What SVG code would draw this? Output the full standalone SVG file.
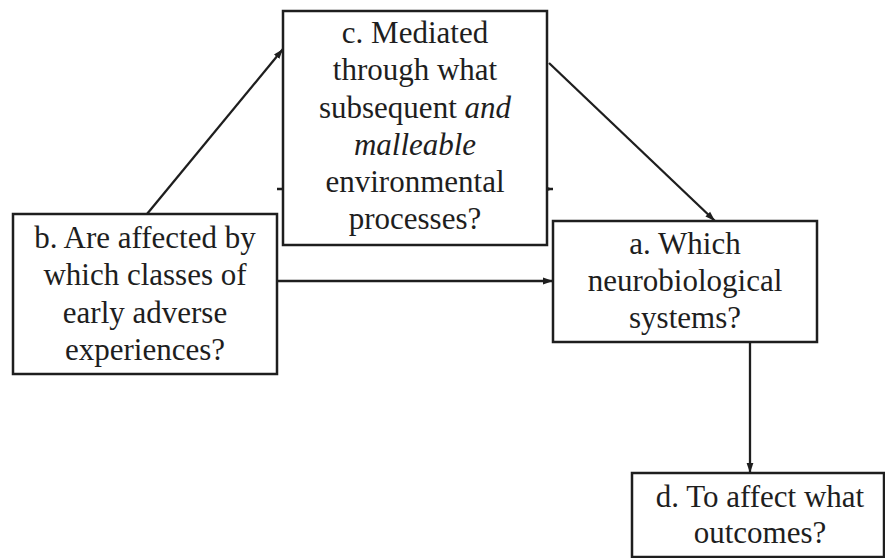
<svg xmlns="http://www.w3.org/2000/svg" width="885" height="558" viewBox="0 0 885 558">
  <defs>
    <style>
      .box { fill: #ffffff; stroke: #1e1e1e; stroke-width: 2.5; }
      .edge { fill: none; stroke: #1e1e1e; stroke-width: 2.3; }
      .lbl { font-family: "Liberation Serif", "Times New Roman", serif; font-size: 31px; fill: #1e1e1e; text-anchor: middle; }
      .it { font-style: italic; }
    </style>
    <marker id="arrow" markerUnits="userSpaceOnUse" markerWidth="12" markerHeight="10" refX="10" refY="4" orient="auto">
      <path d="M0,0.6 L10,4 L0,7.4 Z" fill="#1e1e1e"/>
    </marker>
  </defs>
  <rect width="885" height="558" fill="#ffffff"/>
  <g id="connectors">
    <line class="edge" x1="147" y1="214" x2="283" y2="49" marker-end="url(#arrow)"/>
    <line class="edge" x1="277" y1="189" x2="553" y2="189" marker-end="url(#arrow)"/>
    <line class="edge" x1="549" y1="63" x2="715" y2="221" marker-end="url(#arrow)"/>
    <line class="edge" x1="277" y1="281" x2="553" y2="281" marker-end="url(#arrow)"/>
    <line class="edge" x1="750" y1="342" x2="750" y2="473" marker-end="url(#arrow)"/>
  </g>
  <g id="node-b">
    <rect class="box" x="13" y="214" width="264" height="160"/>
    <text class="lbl" x="145" y="248">b. Are affected by</text>
    <text class="lbl" x="145" y="285">which classes of</text>
    <text class="lbl" x="145" y="323">early adverse</text>
    <text class="lbl" x="145" y="360">experiences?</text>
  </g>
  <g id="node-c">
    <rect class="box" x="283" y="11" width="264" height="234"/>
    <text class="lbl" x="415" y="43">c. Mediated</text>
    <text class="lbl" x="415" y="80">through what</text>
    <text class="lbl" x="415" y="118">subsequent <tspan class="it">and</tspan></text>
    <text class="lbl it" x="415" y="155">malleable</text>
    <text class="lbl" x="415" y="192">environmental</text>
    <text class="lbl" x="415" y="229">processes?</text>
  </g>
  <g id="node-a">
    <rect class="box" x="553" y="221" width="264" height="121"/>
    <text class="lbl" x="685" y="254">a. Which</text>
    <text class="lbl" x="685" y="291">neurobiological</text>
    <text class="lbl" x="685" y="328">systems?</text>
  </g>
  <g id="node-d">
    <rect class="box" x="632" y="473" width="252" height="84"/>
    <text class="lbl" x="760" y="507">d. To affect what</text>
    <text class="lbl" x="760" y="543">outcomes?</text>
  </g>
</svg>
